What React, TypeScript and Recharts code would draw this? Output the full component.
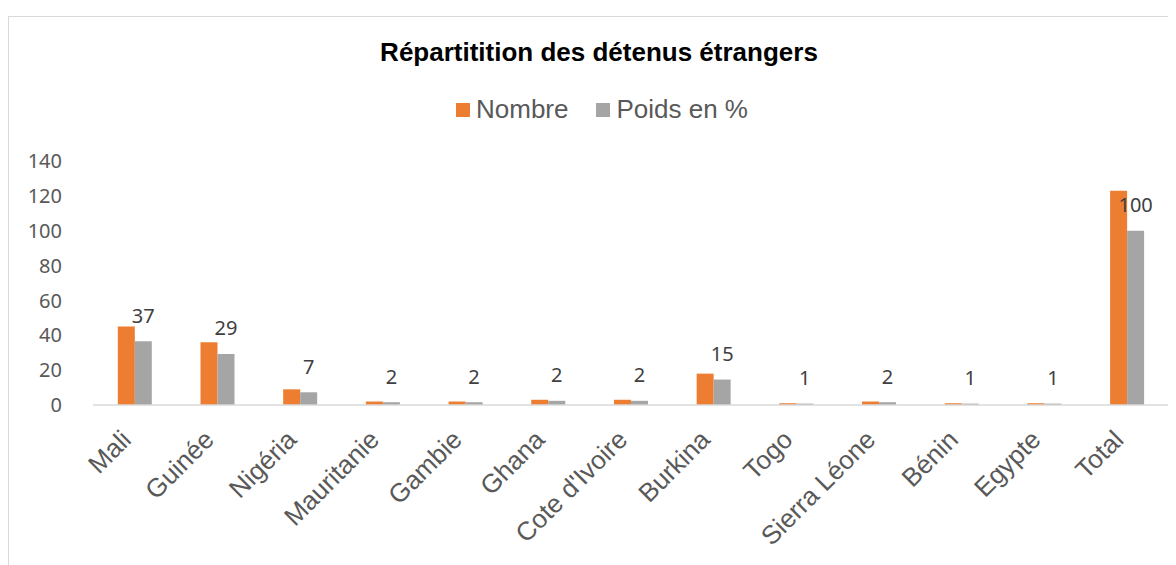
import React from "react";
import { BarChart, Bar, XAxis, YAxis, LabelList } from "recharts";

const pays = ["Mali", "Guinée", "Nigéria", "Mauritanie", "Gambie", "Ghana", "Cote d'Ivoire", "Burkina", "Togo", "Sierra Léone", "Bénin", "Egypte", "Total"];
const nombre = [45, 36, 9, 2, 2, 3, 3, 18, 1, 2, 1, 1, 123];
const poids = [36.6, 29.3, 7.3, 1.6, 1.6, 2.4, 2.4, 14.6, 0.8, 1.6, 0.8, 0.8, 100];
const yTicks = [0, 20, 40, 60, 80, 100, 120, 140];

const data = pays.map((p, i) => ({ pays: p, nombre: nombre[i], poids: poids[i] }));

const ORANGE = "#ED7D31";
const GRIS = "#A5A5A5";

function XTick(props: any) {
  const { x, y, payload } = props;
  const ax = x - 8;
  const ay = y + 22;
  return (
    <text
      x={ax}
      y={ay}
      transform={`rotate(-45, ${ax}, ${ay})`}
      textAnchor="end"
      dominantBaseline="central"
      fontFamily="'Liberation Sans', Arial, sans-serif"
      fontSize={26}
      fill="#595959"
    >
      {payload.value}
    </text>
  );
}

function PoidsLabel(props: any) {
  const { x, y, width, value } = props;
  return (
    <text
      x={x + width / 2}
      y={y - 26}
      textAnchor="middle"
      dominantBaseline="central"
      fontFamily="'Noto Sans', sans-serif"
      fontSize={20}
      fill="#404040"
    >
      {Math.round(value)}
    </text>
  );
}

function Legende() {
  const items = [
    { nom: "Nombre", couleur: ORANGE },
    { nom: "Poids en %", couleur: GRIS },
  ];
  return (
    <div style={{ display: "flex", justifyContent: "center", gap: 28, fontFamily: "'Liberation Sans', Arial, sans-serif", fontSize: 26, color: "#595959" }}>
      {items.map((it) => (
        <div key={it.nom} style={{ display: "flex", alignItems: "center" }}>
          <span style={{ display: "inline-block", width: 14, height: 14, background: it.couleur, marginRight: 6 }} />
          <span>{it.nom}</span>
        </div>
      ))}
    </div>
  );
}

export default function App() {
  return (
    <div style={{ position: "relative", width: 1168, height: 557, overflow: "hidden", background: "#fff" }}>
      <div style={{ position: "absolute", left: 0, top: 8, width: 1240, height: 600, border: "1px solid #D9D9D9" }} />
      <div
        style={{
          position: "absolute",
          left: 0,
          width: 1182,
          top: 29,
          textAlign: "center",
          fontFamily: "'Liberation Sans', Arial, sans-serif",
          fontWeight: "bold",
          fontSize: 26,
          color: "#000",
        }}
      >
        Répartitition des détenus étrangers
      </div>
      <div style={{ position: "absolute", left: 0, width: 1188, top: 86 }}>
        <Legende />
      </div>
      <div style={{ position: "absolute", left: 0, top: 0 }}>
        <BarChart
          width={1168}
          height={557}
          data={data}
          margin={{ top: 153, right: 8, bottom: 0, left: 8 }}
          barCategoryGap="30%"
          barGap={0}
        >
          <XAxis
            dataKey="pays"
            interval={0}
            height={160}
            tick={<XTick />}
            tickLine={false}
            axisLine={{ stroke: "#D9D9D9", strokeWidth: 1.5 }}
          />
          <YAxis
            domain={[0, 140]}
            ticks={yTicks}
            width={77}
            tickLine={false}
            axisLine={false}
            tickMargin={25}
            tick={{ fontFamily: "'Noto Sans', sans-serif", fontSize: 20, fill: "#595959" }}
          />
          <Bar dataKey="nombre" fill={ORANGE} isAnimationActive={false} />
          <Bar dataKey="poids" fill={GRIS} isAnimationActive={false}>
            <LabelList dataKey="poids" content={<PoidsLabel />} />
          </Bar>
        </BarChart>
      </div>
    </div>
  );
}
